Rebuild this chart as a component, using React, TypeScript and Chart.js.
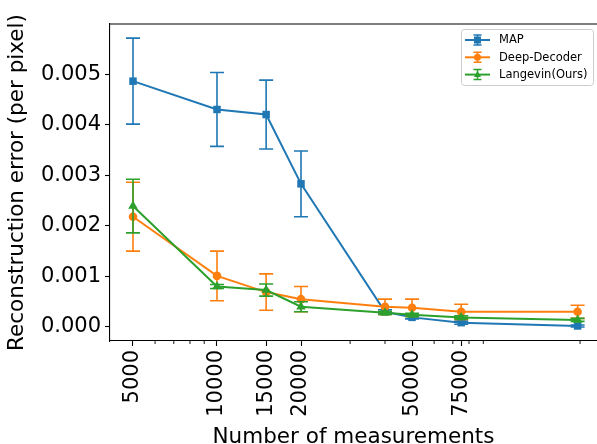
import { useEffect, useRef } from 'react';
import { Chart, registerables } from 'chart.js';

Chart.register(...registerables);

// number of measurements (x, log scale)
const measurements = [5000, 10000, 15000, 20000, 40000, 50000, 75000, 196000];

// reconstruction error (per pixel) and std for each method
const mapError = [0.00486, 0.0043, 0.0042, 0.00283, 0.0003, 0.00019, 0.000085, 0.00002];
const mapStd = [0.00085, 0.00073, 0.00068, 0.00065, 0.00004, 0.00003, 0.00003, 0.00002];
const deepDecoderError = [0.00218, 0.00101, 0.00069, 0.00055, 0.0004, 0.00038, 0.0003, 0.0003];
const deepDecoderStd = [0.00068, 0.00049, 0.00036, 0.00025, 0.00015, 0.00017, 0.00015, 0.00013];
const langevinError = [0.00239, 0.0008, 0.00073, 0.0004, 0.00028, 0.00024, 0.00019, 0.00014];
const langevinStd = [0.00053, 0.00004, 0.00012, 0.0001, 0.00003, 0.00003, 0.00003, 0.00003];

const xTickLabels = [5000, 10000, 15000, 20000, 50000, 75000];
const xMinorTicks = [6000, 7000, 8000, 9000, 30000, 40000, 60000, 70000, 80000, 90000, 200000];
const yTicks = [0, 0.001, 0.002, 0.003, 0.004, 0.005];

const FONT = "'DejaVu Sans', sans-serif";

const series = [
  { label: 'MAP', color: '#1f77b4', style: 'rect', values: mapError, std: mapStd },
  { label: 'Deep-Decoder', color: '#ff7f0e', style: 'circle', values: deepDecoderError, std: deepDecoderStd },
  { label: 'Langevin(Ours)', color: '#2ca02c', style: 'triangle', values: langevinError, std: langevinStd },
];

function drawMarker(ctx: CanvasRenderingContext2D, style: string, x: number, y: number, r: number) {
  ctx.beginPath();
  if (style === 'rect') {
    ctx.rect(x - r, y - r, 2 * r, 2 * r);
  } else if (style === 'circle') {
    ctx.arc(x, y, r, 0, Math.PI * 2);
  } else {
    ctx.moveTo(x, y - r * 1.1);
    ctx.lineTo(x + r, y + r * 0.7);
    ctx.lineTo(x - r, y + r * 0.7);
    ctx.closePath();
  }
  ctx.fill();
}

// vertical error bars with caps, drawn under each dataset's line
const errorBarPlugin = {
  id: 'errorBars',
  beforeDatasetDraw(chart: any, args: any) {
    const s = series[args.index];
    if (!s) return;
    const ctx = chart.ctx;
    const yScale = chart.scales.y;
    ctx.save();
    ctx.strokeStyle = s.color;
    ctx.lineWidth = 1.6;
    args.meta.data.forEach((pt: any, i: number) => {
      const top = yScale.getPixelForValue(s.values[i] + s.std[i]);
      const bot = yScale.getPixelForValue(s.values[i] - s.std[i]);
      ctx.beginPath();
      ctx.moveTo(pt.x, top);
      ctx.lineTo(pt.x, bot);
      ctx.moveTo(pt.x - 7, top);
      ctx.lineTo(pt.x + 7, top);
      ctx.moveTo(pt.x - 7, bot);
      ctx.lineTo(pt.x + 7, bot);
      ctx.stroke();
    });
    ctx.restore();
  },
};

// top spine and minor log ticks
const framePlugin = {
  id: 'frame',
  afterDraw(chart: any) {
    const { ctx, chartArea } = chart;
    const xScale = chart.scales.x;
    ctx.save();
    ctx.strokeStyle = '#000';
    ctx.lineWidth = 1.1;
    ctx.beginPath();
    ctx.moveTo(chartArea.left, chartArea.top);
    ctx.lineTo(chartArea.right, chartArea.top);
    ctx.stroke();
    ctx.lineWidth = 0.9;
    ctx.beginPath();
    xMinorTicks.forEach((v) => {
      const px = xScale.getPixelForValue(v);
      ctx.moveTo(px, chartArea.bottom);
      ctx.lineTo(px, chartArea.bottom + 3);
    });
    ctx.stroke();
    ctx.restore();
  },
};

const legendPlugin = {
  id: 'boxLegend',
  afterDraw(chart: any) {
    const { ctx, chartArea } = chart;
    const w = 132;
    const h = 56;
    const left = chartArea.right - 4 - w;
    const top = chartArea.top + 5;
    ctx.save();
    ctx.fillStyle = 'rgba(255,255,255,0.8)';
    ctx.strokeStyle = '#cccccc';
    ctx.lineWidth = 1;
    ctx.beginPath();
    ctx.roundRect(left + 0.5, top + 0.5, w, h, 3);
    ctx.fill();
    ctx.stroke();
    ctx.font = `11.5px ${FONT}`;
    ctx.textBaseline = 'middle';
    series.forEach((s, i) => {
      const y = top + 11 + i * 17.3;
      const x0 = left + 4;
      const x1 = left + 29;
      const cx = (x0 + x1) / 2;
      ctx.strokeStyle = s.color;
      ctx.fillStyle = s.color;
      ctx.lineWidth = 2;
      ctx.beginPath();
      ctx.moveTo(x0, y);
      ctx.lineTo(x1, y);
      ctx.stroke();
      ctx.lineWidth = 1.5;
      ctx.beginPath();
      ctx.moveTo(cx, y - 5);
      ctx.lineTo(cx, y + 5);
      ctx.moveTo(cx - 4, y - 5);
      ctx.lineTo(cx + 4, y - 5);
      ctx.moveTo(cx - 4, y + 5);
      ctx.lineTo(cx + 4, y + 5);
      ctx.stroke();
      drawMarker(ctx, s.style, cx, y, 3.5);
      ctx.fillStyle = '#000';
      ctx.fillText(s.label, left + 38, y + 0.5);
    });
    ctx.restore();
  },
};

export default function App() {
  const canvasRef = useRef<HTMLCanvasElement>(null);
  const chartRef = useRef<Chart | null>(null);

  useEffect(() => {
    document.body.style.margin = '0';
    if (!canvasRef.current) return;
    if (chartRef.current) chartRef.current.destroy();

    const tickFont = { family: FONT, size: 21 };
    const titleFont = { family: FONT, size: 21.5 };

    chartRef.current = new Chart(canvasRef.current, {
      type: 'line',
      data: {
        datasets: series.map((s, idx) => ({
          label: s.label,
          data: measurements.map((x, i) => ({ x, y: s.values[i] })),
          borderColor: s.color,
          backgroundColor: s.color,
          borderWidth: 2,
          pointStyle: s.style as any,
          pointRadius: s.style === 'rect' ? 5.3 : s.style === 'circle' ? 4.3 : 5.5,
          pointBorderWidth: 0,
          pointBackgroundColor: s.color,
          tension: 0,
          clip: false as any,
          order: 3 - idx,
        })),
      },
      options: {
        animation: false,
        responsive: false,
        layout: { autoPadding: false, padding: { top: 24, left: 0, right: 0, bottom: 0 } },
        plugins: {
          legend: { display: false },
          tooltip: { enabled: false },
        },
        scales: {
          x: {
            type: 'logarithmic',
            min: 4136,
            max: 230000,
            afterBuildTicks: (scale: any) => {
              scale.ticks = xTickLabels.map((v) => ({ value: v }));
            },
            afterFit: (scale: any) => {
              scale.height = 103;
              scale.paddingLeft = 0;
              scale.paddingRight = 0;
            },
            ticks: {
              autoSkip: false,
              minRotation: 90,
              maxRotation: 90,
              padding: 4,
              color: '#000',
              font: tickFont,
              callback: (v: any) => String(v),
            },
            grid: {
              display: true,
              drawOnChartArea: false,
              drawTicks: true,
              tickLength: 5,
              tickColor: '#000',
              tickWidth: 1.1,
            },
            border: { display: true, color: '#000', width: 1.1 },
            title: {
              display: true,
              text: 'Number of measurements',
              color: '#000',
              font: titleFont,
              padding: { top: 0, bottom: -6 },
            },
          },
          y: {
            type: 'linear',
            min: -0.000277,
            max: 0.00599,
            afterBuildTicks: (scale: any) => {
              scale.ticks = yTicks.map((v) => ({ value: v }));
            },
            afterFit: (scale: any) => {
              scale.width = 110;
              scale.paddingTop = 0;
              scale.paddingBottom = 0;
            },
            ticks: {
              padding: 4,
              color: '#000',
              font: tickFont,
              callback: (v: any) => Number(v).toFixed(3),
            },
            grid: {
              display: true,
              drawOnChartArea: false,
              drawTicks: true,
              tickLength: 5,
              tickColor: '#000',
              tickWidth: 1.1,
            },
            border: { display: true, color: '#000', width: 1.1 },
            title: {
              display: true,
              text: 'Reconstruction error (per pixel)',
              color: '#000',
              font: titleFont,
              padding: { top: 5, bottom: 0 },
            },
          },
        },
      },
      plugins: [errorBarPlugin, framePlugin, legendPlugin],
    });

    return () => {
      if (chartRef.current) {
        chartRef.current.destroy();
        chartRef.current = null;
      }
    };
  }, []);

  return (
    <div style={{ width: 597, height: 444, background: '#fff' }}>
      <canvas ref={canvasRef} width={597} height={444} />
    </div>
  );
}
